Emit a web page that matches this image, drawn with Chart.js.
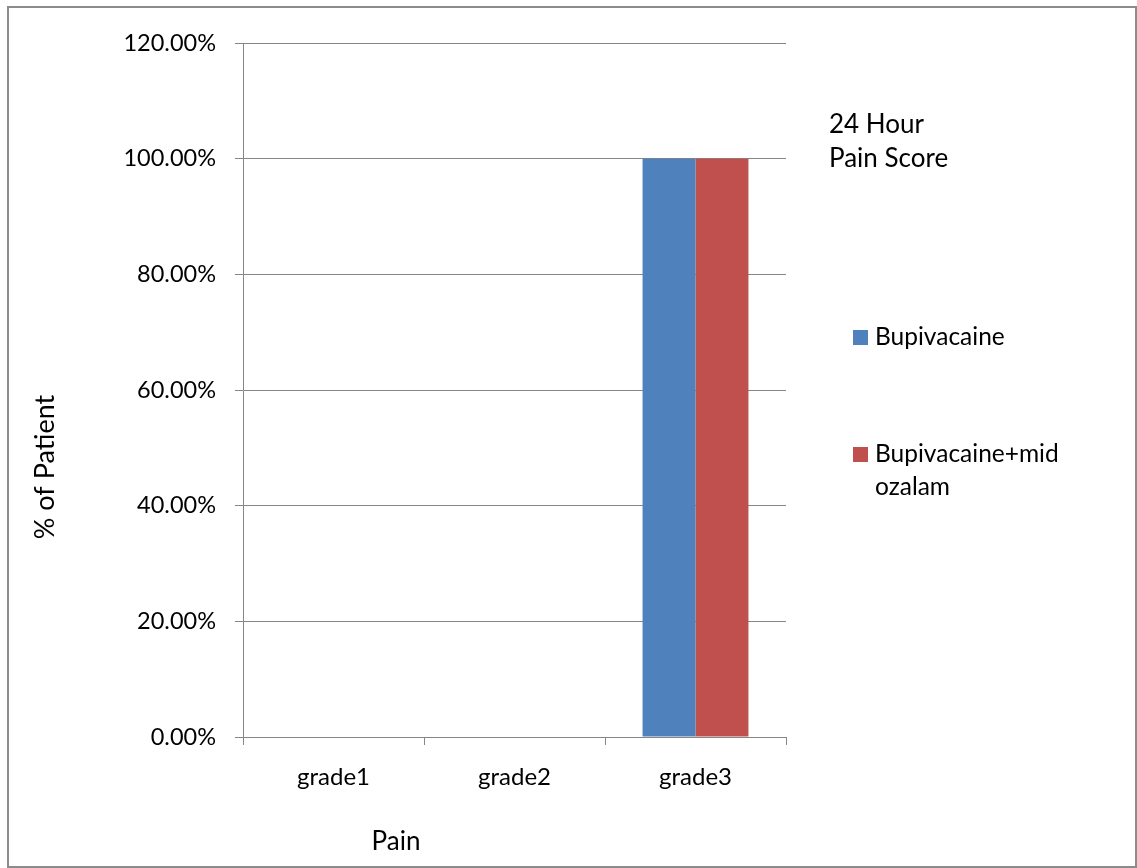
<!DOCTYPE html>
<html><head><meta charset="utf-8">
<script src="https://cdn.jsdelivr.net/npm/chart.js@4"></script>
<style>html,body{margin:0;padding:0;background:#fff}#wrap{width:1137px;height:868px;position:relative}</style>
</head><body><div id="wrap"><canvas id="c" width="1137" height="868"></canvas></div>
<script>
const categories = ["grade1", "grade2", "grade3"];
const seriesNames = ["Bupivacaine", "Bupivacaine+midozalam"];
const bupivacaine = [0, 0, 1.0];
const bupivacaineMidozalam = [0, 0, 1.0];
const titleLines = ["24 Hour", "Pain Score"];
const legendLines = [["Bupivacaine"], ["Bupivacaine+mid", "ozalam"]];
const xTitle = "Pain";
const yTitle = "% of Patient";

const FONT = "Lato, 'Open Sans', sans-serif";
const colors = ["#4F81BD", "#C0504D"];
const gridColor = "#868686";

const extras = {
  id: 'extras',
  afterDraw(chart) {
    const ctx = chart.ctx;
    ctx.save();
    ctx.strokeStyle = "#8c8c8c";
    ctx.lineWidth = 2;
    ctx.strokeRect(8, 7, 1128, 860);
    ctx.fillStyle = "#000";
    ctx.textBaseline = "middle";
    ctx.textAlign = "left";
    ctx.font = "26px " + FONT;
    ctx.fillText(titleLines[0], 829, 125);
    ctx.fillText(titleLines[1], 829, 159);
    ctx.font = "24.5px " + FONT;
    const ys = [337, 454];
    legendLines.forEach((lines, i) => {
      ctx.fillStyle = colors[i];
      ctx.fillRect(853, ys[i] - 7, 15, 15);
      ctx.fillStyle = "#000";
      lines.forEach((t, j) => ctx.fillText(t, 875, ys[i] + j * 33));
    });
    ctx.textAlign = "center";
    ctx.font = "26px " + FONT;
    ctx.fillText(xTitle, 396, 842);
    ctx.translate(45, 467);
    ctx.rotate(-Math.PI / 2);
    ctx.font = "27px " + FONT;
    ctx.fillText(yTitle, 0, 0);
    ctx.restore();
  }
};

new Chart(document.getElementById('c'), {
  type: 'bar',
  data: {
    labels: categories,
    datasets: [
      { label: seriesNames[0], data: bupivacaine, backgroundColor: colors[0] },
      { label: seriesNames[1], data: bupivacaineMidozalam, backgroundColor: colors[1] }
    ]
  },
  options: {
    responsive: false,
    animation: false,
    devicePixelRatio: 1,
    layout: { padding: { top: 43, right: 351, left: 0, bottom: 0 } },
    datasets: { bar: { categoryPercentage: 0.585, barPercentage: 1.0 } },
    plugins: { legend: { display: false }, title: { display: false }, tooltip: { enabled: false } },
    scales: {
      x: {
        grid: { display: true, drawOnChartArea: false, drawTicks: true, tickLength: 8, color: gridColor, offset: true },
        border: { display: true, color: gridColor, width: 1 },
        ticks: { color: "#000", font: { family: FONT, size: 24 }, padding: 18 },
        afterFit(s) { s.height = 131; }
      },
      y: {
        min: 0, max: 1.2,
        grid: { color: gridColor, tickLength: 8 },
        border: { display: true, color: gridColor, width: 1 },
        ticks: { stepSize: 0.2, color: "#000", font: { family: FONT, size: 23.5 }, padding: 19,
                 callback: v => (v * 100).toFixed(2) + "%" },
        afterFit(s) { s.width = 243; }
      }
    }
  },
  plugins: [extras]
});
</script></body></html>
